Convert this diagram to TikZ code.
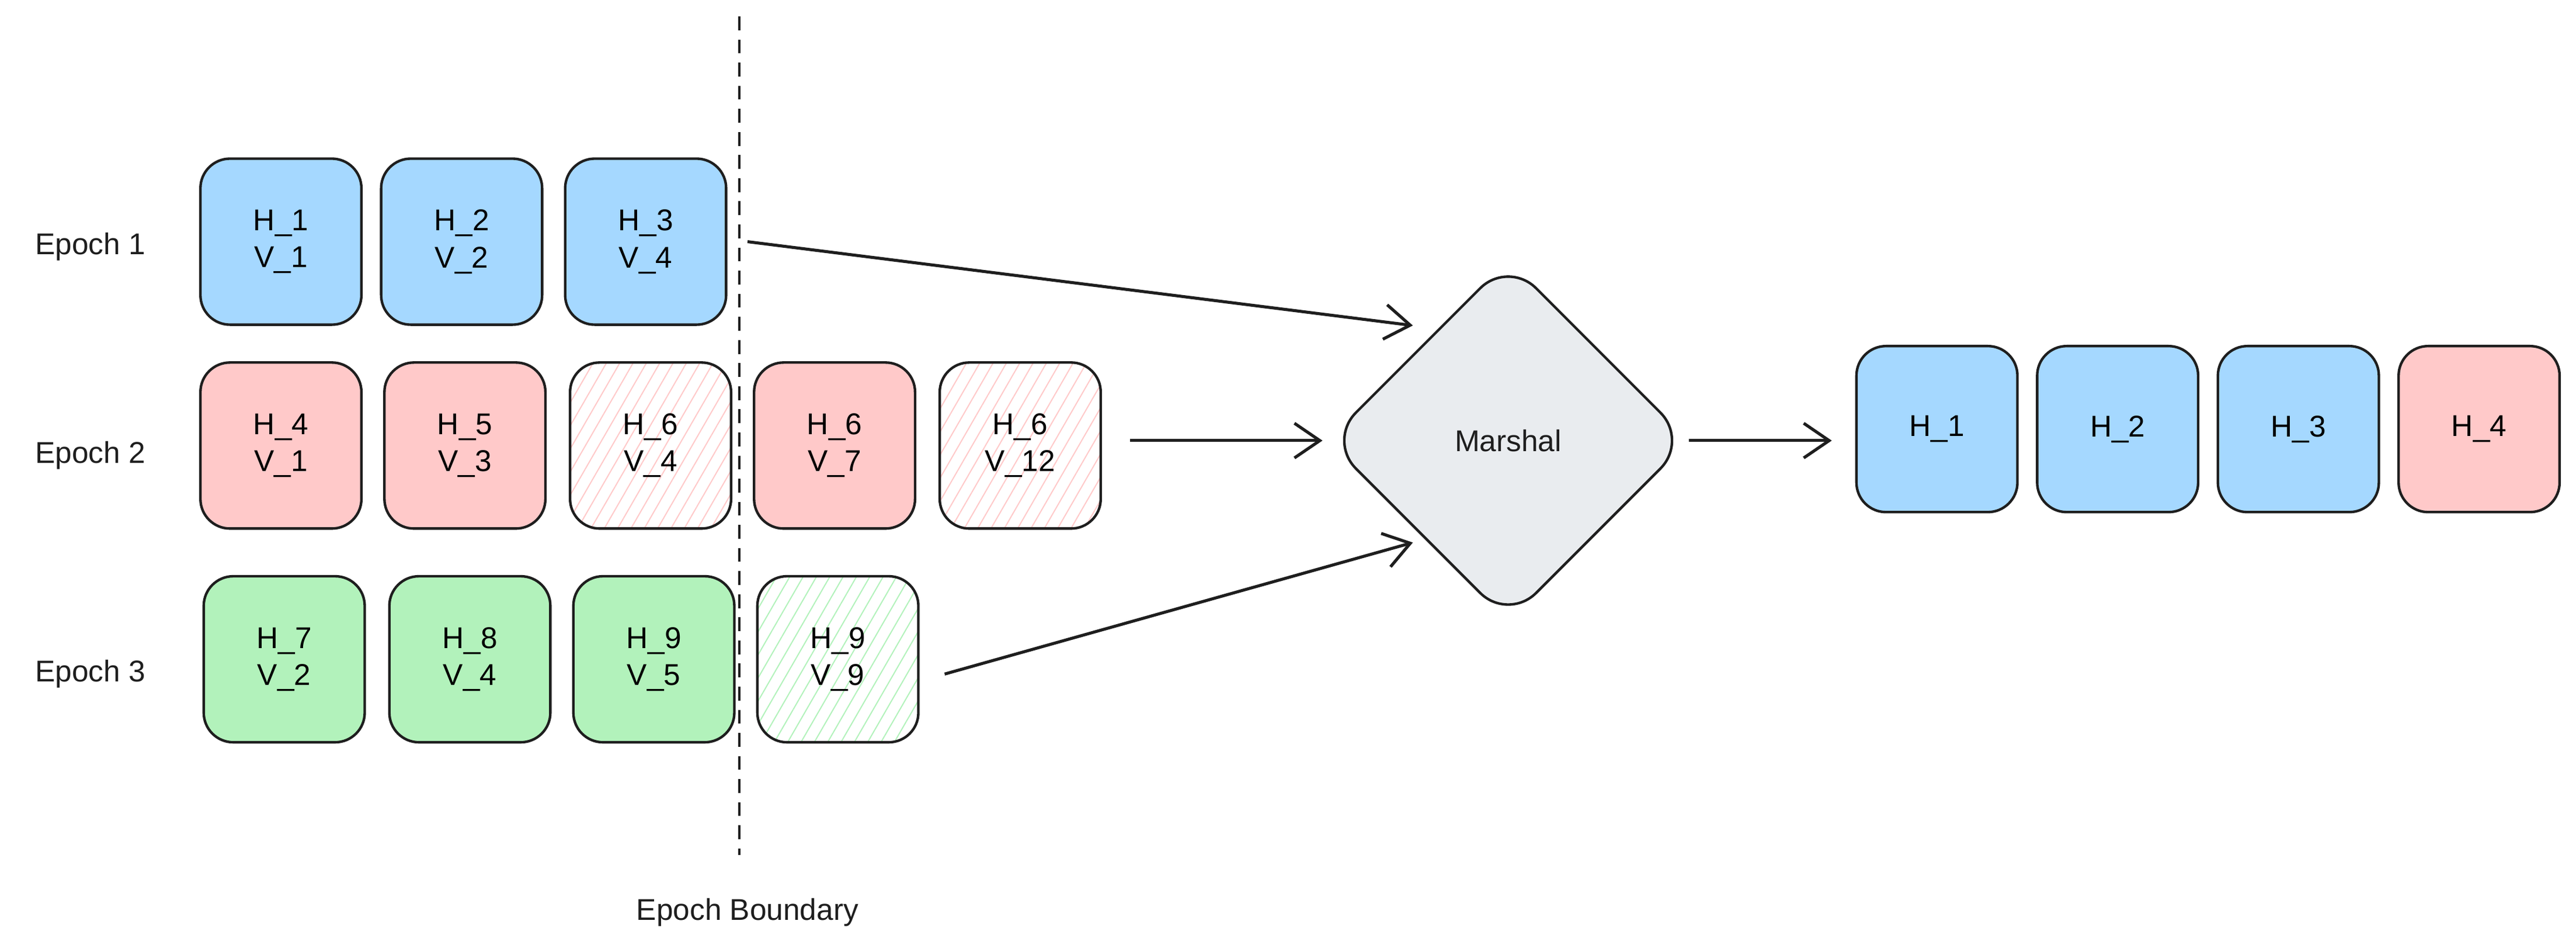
\documentclass[tikz,border=0pt]{standalone}
\usepackage{fontspec}
\setmainfont{Liberation Sans}
\usetikzlibrary{shapes.geometric,patterns.meta,arrows.meta}
\definecolor{cb}{HTML}{A5D8FF}
\definecolor{cr}{HTML}{FFC9C9}
\definecolor{cg}{HTML}{B2F2BB}
\definecolor{cgr}{HTML}{E9ECEF}
\definecolor{ink}{HTML}{1E1E1E}
\tikzset{
 box/.style={draw=ink,line width=2.2pt,rounded corners=0.9cm,minimum width=4.9cm,minimum height=5.05cm,align=center,font=\fontsize{26}{32}\selectfont,inner sep=0pt},
 hatch/.style={box,pattern={Lines[angle=60,distance=10pt,line width=1pt]}},
 lbl/.style={font=\fontsize{26}{32}\selectfont,text=ink},
 arr/.style={draw=ink,line width=2.6pt,-{Straight Barb[length=22pt,width=30pt,line width=2.6pt]}},
}
\begin{document}
\begin{tikzpicture}[x=0.05cm,y=-0.05cm]
\useasboundingbox (0,0) rectangle (1568,579);
\draw[ink,line width=1.8pt,dash pattern=on 12pt off 8pt] (450,10) -- (450,520);
\node[lbl] (eb) at (455,555) {Epoch Boundary};
\node[lbl] (e1) at (55,150) {Epoch 1};
\node[lbl] (e2) at (55,277) {Epoch 2};
\node[lbl] (e3) at (55,410) {Epoch 3};
% row 1
\node[box,fill=cb] (a1) at (171,147) {H\_1\\V\_1};
\node[box,fill=cb] (a2) at (281,147) {H\_2\\V\_2};
\node[box,fill=cb] (a3) at (393,147) {H\_3\\V\_4};
% row 2
\node[box,fill=cr] (b1) at (171,271) {H\_4\\V\_1};
\node[box,fill=cr] (b2) at (283,271) {H\_5\\V\_3};
\node[hatch,pattern color=cr] (b3) at (396,271) {H\_6\\V\_4};
\node[box,fill=cr] (b4) at (508,271) {H\_6\\V\_7};
\node[hatch,pattern color=cr] (b5) at (621,271) {H\_6\\V\_12};
% row 3
\node[box,fill=cg] (c1) at (173,401) {H\_7\\V\_2};
\node[box,fill=cg] (c2) at (286,401) {H\_8\\V\_4};
\node[box,fill=cg] (c3) at (398,401) {H\_9\\V\_5};
\node[hatch,pattern color=cg] (c4) at (510,401) {H\_9\\V\_9};
% marshal
\node[draw=ink,fill=cgr,line width=2.2pt,diamond,rounded corners=1.2cm,minimum width=11cm,minimum height=11cm,lbl] (m) at (918,268) {Marshal};
% outputs
\node[box,fill=cb] (o1) at (1179,261) {H\_1};
\node[box,fill=cb] (o2) at (1289,261) {H\_2};
\node[box,fill=cb] (o3) at (1399,261) {H\_3};
\node[box,fill=cr] (o4) at (1509,261) {H\_4};
\coordinate (s1) at (455,147);
\coordinate (p1) at (860,198);
\coordinate (s2) at (688,268);
\coordinate (p2) at (805,268);
\coordinate (s3) at (575,410);
\coordinate (p3) at (860,330);
\coordinate (s4) at (1028,268);
\coordinate (p4) at (1115,268);
\draw[arr] (s1) -- (p1);
\draw[arr] (s2) -- (p2);
\draw[arr] (s3) -- (p3);
\draw[arr] (s4) -- (p4);
\end{tikzpicture}
\end{document}
